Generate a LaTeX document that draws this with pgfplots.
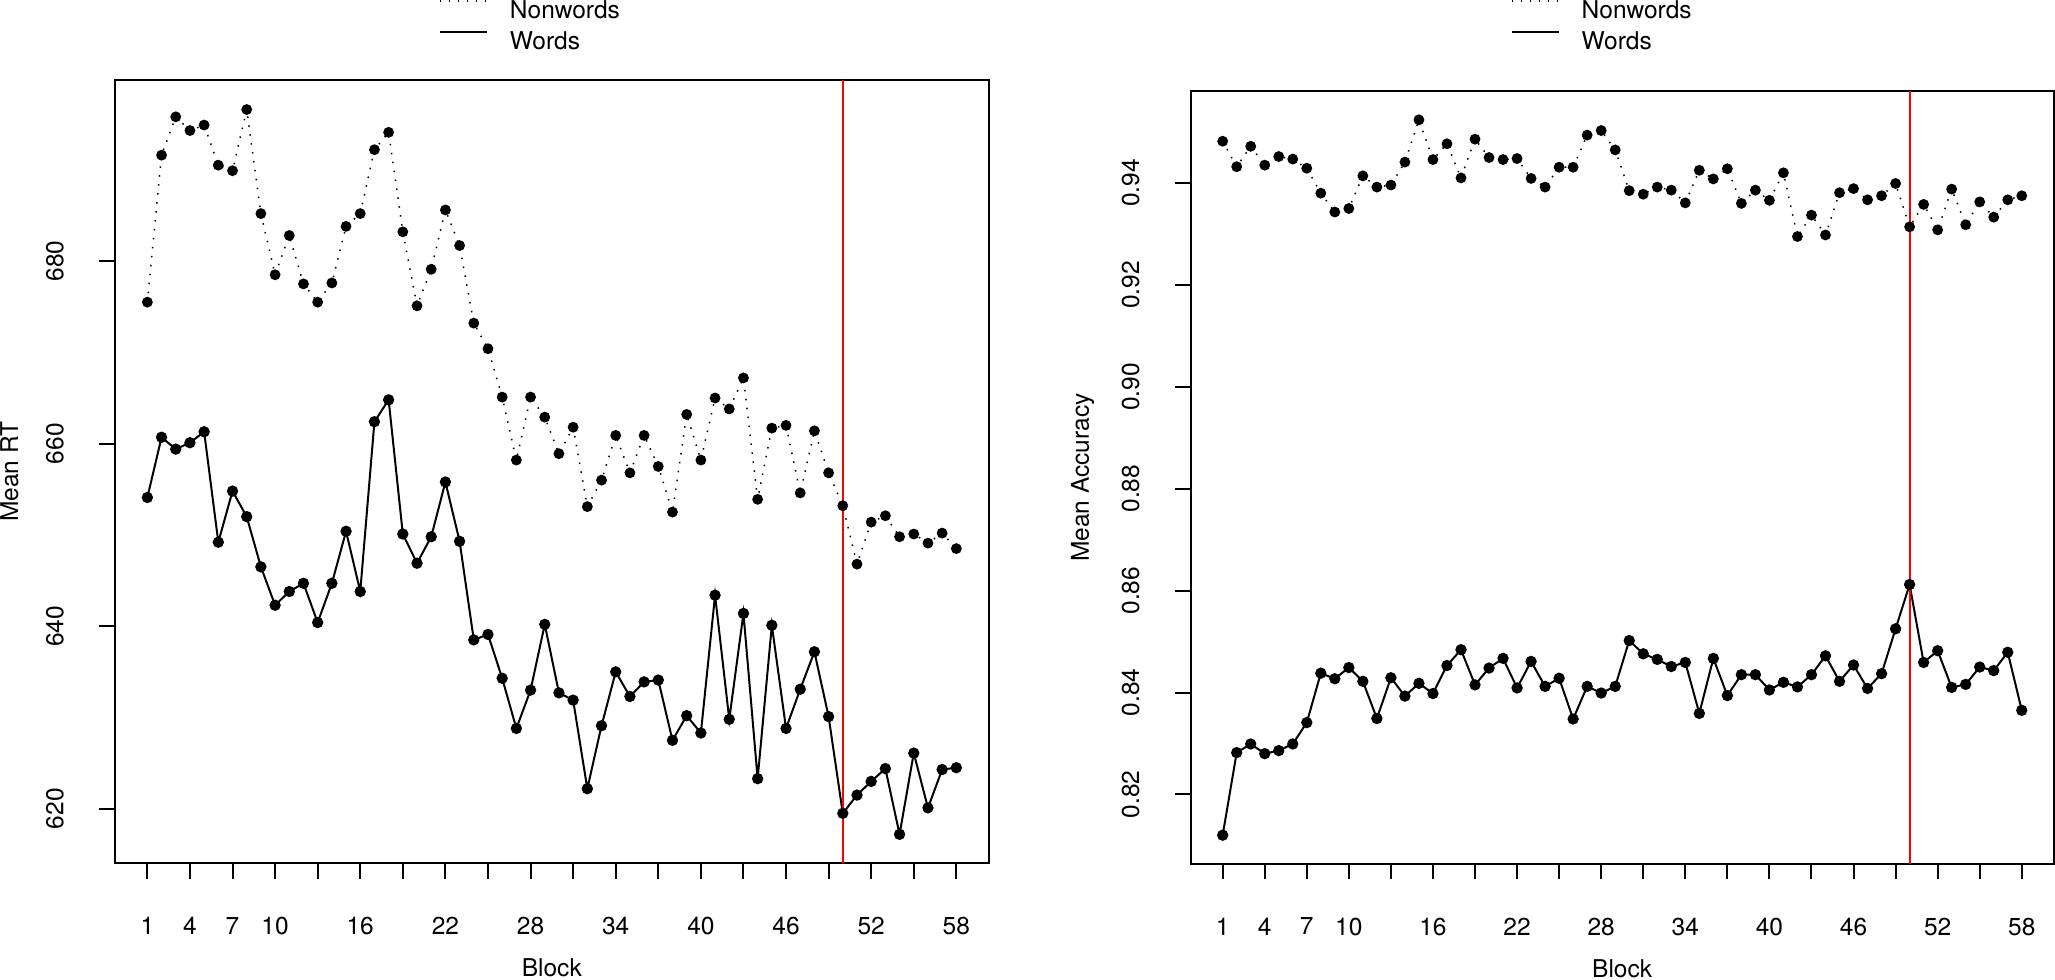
\documentclass[border=0pt]{standalone}
\usepackage{pgfplots}
\pgfplotsset{compat=1.18}
\usepackage{pgfplotstable}
\usepackage{fontspec}
\setmainfont{TeX Gyre Heros}

\pgfplotstableread{
block nw w
1 675.5 654.1
2 691.6 660.7
3 695.8 659.4
4 694.3 660.1
5 694.9 661.3
6 690.5 649.2
7 689.9 654.8
8 696.6 652.0
9 685.2 646.5
10 678.5 642.3
11 682.8 643.8
12 677.5 644.7
13 675.5 640.4
14 677.6 644.7
15 683.8 650.4
16 685.2 643.8
17 692.2 662.4
18 694.1 664.8
19 683.2 650.1
20 675.1 646.9
21 679.1 649.8
22 685.6 655.8
23 681.7 649.3
24 673.2 638.5
25 670.4 639.1
26 665.1 634.3
27 658.2 628.8
28 665.1 633.0
29 662.9 640.2
30 658.9 632.7
31 661.8 631.9
32 653.1 622.2
33 656.0 629.1
34 660.9 635.0
35 656.8 632.3
36 660.9 633.9
37 657.5 634.1
38 652.5 627.5
39 663.2 630.2
40 658.2 628.3
41 665.0 643.4
42 663.8 629.8
43 667.2 641.4
44 653.9 623.3
45 661.7 640.1
46 662.0 628.8
47 654.6 633.1
48 661.4 637.2
49 656.8 630.1
50 653.2 619.5
51 646.8 621.5
52 651.4 623.0
53 652.1 624.4
54 649.8 617.2
55 650.1 626.1
56 649.1 620.1
57 650.2 624.3
58 648.5 624.5
}\rtdata

\pgfplotstableread{
block nw w
1 0.9482 0.8120
2 0.9432 0.8282
3 0.9472 0.8299
4 0.9435 0.8280
5 0.9452 0.8286
6 0.9447 0.8299
7 0.9429 0.8341
8 0.9380 0.8438
9 0.9343 0.8427
10 0.9350 0.8449
11 0.9414 0.8422
12 0.9392 0.8349
13 0.9396 0.8429
14 0.9441 0.8393
15 0.9524 0.8418
16 0.9446 0.8398
17 0.9477 0.8453
18 0.9410 0.8484
19 0.9486 0.8415
20 0.9450 0.8448
21 0.9446 0.8467
22 0.9448 0.8409
23 0.9409 0.8461
24 0.9392 0.8412
25 0.9431 0.8428
26 0.9431 0.8348
27 0.9494 0.8412
28 0.9503 0.8399
29 0.9465 0.8412
30 0.9385 0.8502
31 0.9378 0.8476
32 0.9392 0.8465
33 0.9386 0.8451
34 0.9361 0.8459
35 0.9425 0.8359
36 0.9408 0.8467
37 0.9428 0.8394
38 0.9360 0.8435
39 0.9386 0.8435
40 0.9366 0.8405
41 0.9420 0.8420
42 0.9295 0.8411
43 0.9337 0.8435
44 0.9298 0.8472
45 0.9381 0.8422
46 0.9389 0.8454
47 0.9367 0.8408
48 0.9375 0.8437
49 0.9399 0.8525
50 0.9314 0.8612
51 0.9358 0.8459
52 0.9308 0.8482
53 0.9388 0.8410
54 0.9318 0.8416
55 0.9363 0.8450
56 0.9333 0.8443
57 0.9367 0.8479
58 0.9375 0.8365
}\accdata

\pgfplotsset{
  rstyle/.style={
    scale only axis,
    axis line style={line width=0.8pt},
    every tick/.style={black, line width=0.8pt},
    tick align=outside,
    major tick length=6.3pt,
    xtick pos=bottom, ytick pos=left,
    xmin=-1.28, xmax=60.28,
    xtick={1,4,...,58},
    xticklabels={1,4,7,10,,16,,22,,28,,34,,40,,46,,52,,58},
    /pgf/number format/assume math mode=true,
    xticklabel style={anchor=north, inner sep=0pt},
    xticklabel shift=15.2pt,
    yticklabel style={rotate=90, anchor=south, inner sep=0pt},
    yticklabel shift=14pt,
    xlabel={Block},
    xlabel style={at={(axis description cs:0.5,0)}, anchor=north, inner sep=0pt, yshift=-38.0pt},
    ylabel style={anchor=south, inner sep=0pt},
    legend image code/.code={\draw[##1] (0pt,3.5pt) -- (18.8pt,3.5pt);},
    legend cell align=left,
    legend style={anchor=north west, draw=none, fill=none, inner sep=0pt, outer sep=0pt,
      row sep=5pt, column sep=8.8pt,
      nodes={inner sep=0pt, text height=7.1pt, text depth=0pt}},
  },
  nwstyle/.style={black, line width=0.6pt, dash pattern=on 0.6pt off 3.0pt,
    mark=*, mark size=1.85pt, mark options={solid, fill=black}},
  wstyle/.style={black, line width=0.8pt, solid,
    mark=*, mark size=1.85pt, mark options={solid, fill=black}},
}

\begin{document}
\fontsize{9.8pt}{12pt}\selectfont
\begin{tikzpicture}
\useasboundingbox (0,0) rectangle (822pt,391.6pt);
\begin{axis}[rstyle,
  at={(46pt,46.4pt)}, anchor=south west,
  width=349.48pt, height=313.08pt,
  ymin=614.06, ymax=699.8,
  ytick={620,640,660,680},
  yticklabels={620,640,660,680},
  ylabel={Mean RT},
  ylabel style={at={(axis description cs:-0.1099,0.5)}},
  legend style={at={(axis description cs:0.3708,1.1026)}},
]
\addplot[nwstyle] table[x=block, y=nw] {\rtdata};
\addlegendentry{Nonwords}
\addplot[wstyle] table[x=block, y=w] {\rtdata};
\addlegendentry{Words}
\addplot[red, line width=0.8pt, no marks, forget plot] coordinates {(50,614.06) (50,699.8)};
\end{axis}

\begin{axis}[rstyle,
  at={(476.28pt,46.12pt)}, anchor=south west,
  width=345.2pt, height=308.96pt,
  ymin=0.8064, ymax=0.9580,
  ytick={0.82,0.84,0.86,0.88,0.90,0.92,0.94},
  yticklabels={0.82,0.84,0.86,0.88,0.90,0.92,0.94},
  ylabel={Mean Accuracy},
  ylabel style={at={(axis description cs:-0.1112,0.5)}},
  legend style={at={(axis description cs:0.3708,1.1182)}},
]
\addplot[nwstyle] table[x=block, y=nw] {\accdata};
\addlegendentry{Nonwords}
\addplot[wstyle] table[x=block, y=w] {\accdata};
\addlegendentry{Words}
\addplot[red, line width=0.8pt, no marks, forget plot] coordinates {(50,0.8064) (50,0.9580)};
\end{axis}
\end{tikzpicture}
\end{document}
